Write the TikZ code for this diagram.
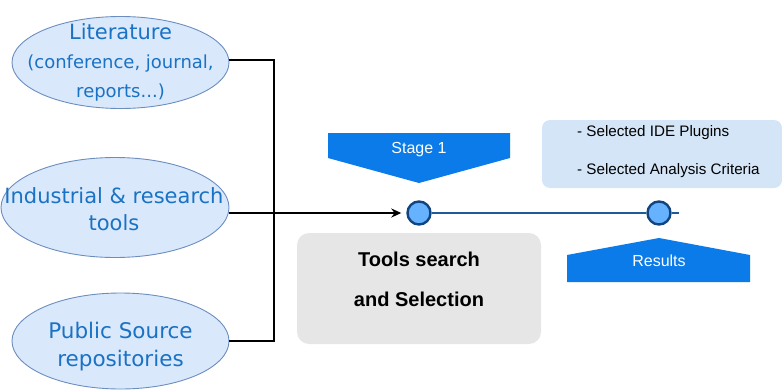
\documentclass[tikz,border=0pt]{standalone}
\usepackage{fontspec}
\setmainfont{Liberation Sans}
\newfontfamily\dejavu{DejaVu Sans}
\usetikzlibrary{arrows.meta,shapes.geometric}

\definecolor{srcfill}{HTML}{DAE8FC}
\definecolor{srcdraw}{HTML}{6C8EBF}
\definecolor{srctext}{HTML}{1A72C4}
\definecolor{bannerblue}{HTML}{0A7BE8}
\definecolor{dotfill}{HTML}{66B2FF}
\definecolor{dotdraw}{HTML}{10457F}
\definecolor{railblue}{HTML}{1C5A9A}
\definecolor{taskgray}{HTML}{E6E6E6}
\definecolor{resfill}{HTML}{D4E5F8}

\tikzset{
  source/.style={ellipse, draw=srcdraw, fill=srcfill, line width=0.9pt,
    inner sep=0pt},
  sourcetext/.style={align=center, text=srctext, inner sep=0pt,
    font=\dejavu\fontsize{21}{27.5}\selectfont},
  wire/.style={line width=2pt, black},
  dot/.style={circle, draw=dotdraw, fill=dotfill, line width=2.4pt,
    minimum size=23pt, inner sep=0pt},
  rail/.style={line width=2pt, railblue},
  banner/.style={fill=bannerblue},
  bannertext/.style={text=white, font=\fontsize{16}{18}\selectfont},
  listtext/.style={anchor=west, inner sep=0pt, font=\fontsize{15.2}{17}\selectfont},
}

\begin{document}
\begin{tikzpicture}[x=1pt, y=-1pt]
\useasboundingbox (0,0) rectangle (782,391);

% input sources
\node[source, minimum width=217pt, minimum height=92pt] (lit) at (120.5,62.5) {};
\node[sourcetext, font=\dejavu\fontsize{18}{29}\selectfont] (littext) at (120.5,62)
  {{\fontsize{21}{29}\selectfont Literature}\\(conference, journal,\\reports...)};
\node[source, minimum width=228pt, minimum height=100pt] (ind) at (115,207.5) {};
\node[sourcetext] (indtext) at (114,209) {Industrial \& research\\tools};
\node[source, minimum width=217pt, minimum height=96pt] (pub) at (120.5,341) {};
\node[sourcetext, font=\dejavu\fontsize{21.5}{28}\selectfont] (pubtext) at (120.5,346.5)
  {Public Source\\repositories};

% stage timeline
\node[dot] (s1) at (419,213) {};
\node[dot] (s2) at (659,213) {};
\coordinate (tail) at (679,213);
\coordinate (bus) at (274,212);

\draw[wire] (lit.east |- 0,60) -| (bus);
\draw[wire] (pub.east) -| (bus);
\draw[wire, -{Stealth[length=10pt,width=9pt]}, shorten >=5pt] (ind.east |- s1.west) -- (s1.west);
\draw[rail] (s1.east) -- (s2.west);
\draw[rail] (s2.east) -- (tail);

% stage banner
\fill[banner] (328,133) -- (510,133) -- (510,158) -- (419,183) -- (328,158) -- cycle;
\node[bannertext] (stage) at (419,150) {Stage 1};

% results banner
\fill[banner] (567,282) -- (567,255) -- (659,238) -- (750,255) -- (750,282) -- cycle;
\node[bannertext] (results) at (659,261) {Results};

% results list
\node[fill=resfill, rounded corners=8pt, minimum width=240pt, minimum height=68pt,
  inner sep=0pt] (res) at (662,154) {};
\node[listtext] (plugins) at (577,133) {- Selected IDE Plugins};
\node[listtext] (criteria) at (577,171) {- Selected Analysis Criteria};

% task box
\node[fill=taskgray, rounded corners=12pt, minimum width=244pt, minimum height=111pt,
  inner sep=0pt] (task) at (419,288.5) {};
\node[align=center, font=\bfseries\fontsize{20}{40}\selectfont] (tasklabel) at (419,279)
  {Tools search\\and Selection};
\end{tikzpicture}
\end{document}
